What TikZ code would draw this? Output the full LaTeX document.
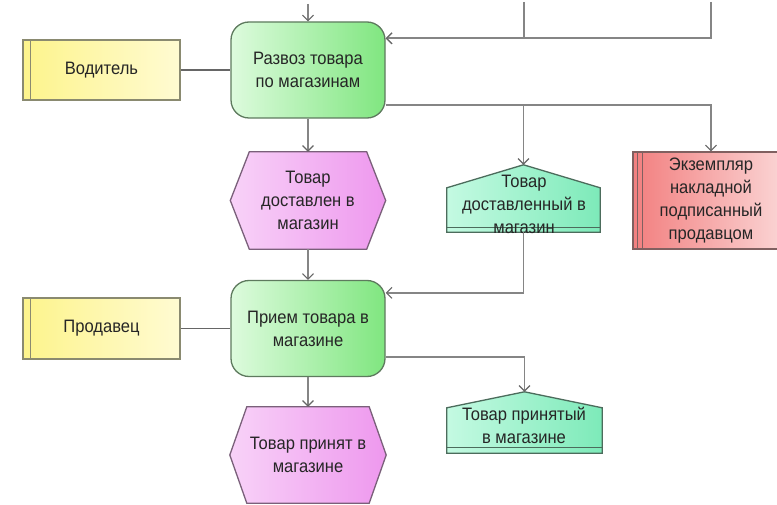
\documentclass[tikz,border=0pt]{standalone}
\usepackage{fontspec}
\setmainfont[FakeStretch=0.92]{Liberation Sans}
\usetikzlibrary{arrows.meta,calc}
\pgfdeclarelayer{background}
\pgfsetlayers{background,main}
\definecolor{linegray}{HTML}{858585}
\definecolor{plaingray}{HTML}{666666}
\definecolor{tipgray}{HTML}{666666}
\definecolor{txtc}{HTML}{262626}
\definecolor{grL}{HTML}{DDFBDD}
\definecolor{grR}{HTML}{80E680}
\definecolor{grB}{HTML}{5E7A5E}
\definecolor{yeL}{HTML}{FDF48C}
\definecolor{yeR}{HTML}{FFFBD2}
\definecolor{yeB}{HTML}{8A8A70}
\definecolor{piL}{HTML}{F8D2F8}
\definecolor{piR}{HTML}{EE98EE}
\definecolor{piB}{HTML}{7A607A}
\definecolor{tqL}{HTML}{C4FAE2}
\definecolor{tqR}{HTML}{7DEAB9}
\definecolor{tqB}{HTML}{4C6C5C}
\definecolor{rdL}{HTML}{F27F7F}
\definecolor{rdR}{HTML}{FBD8D8}
\definecolor{rdB}{HTML}{806060}
\tikzset{
  txt/.style={font=\fontsize{18}{23}\selectfont, text=txtc, align=center, inner sep=0pt},
  conn/.style={draw=linegray, line width=1.8pt, -{Straight Barb[length=5.5pt,width=11pt,line width=1.1pt,color=tipgray]}},
  plain/.style={draw=plaingray, line width=1.8pt},
  funcbox/.style={txt, draw=grB, line width=1.3pt, rounded corners=18pt, left color=grL, right color=grR, minimum width=154pt, minimum height=96pt},
  rolebox/.style={txt, draw=yeB, line width=1.2pt, left color=yeL, right color=yeR, minimum width=157pt, minimum height=60pt},
  evshape/.style={draw=piB, line width=1.3pt, left color=piL, right color=piR},
  infshape/.style={draw=tqB, line width=1.3pt, left color=tqL, right color=tqR},
  docbox/.style={txt, draw=rdB, line width=1.2pt, left color=rdL, right color=rdR, minimum width=156pt, minimum height=97pt},
}
\begin{document}
\begin{tikzpicture}[x=1pt,y=-1pt]
\useasboundingbox (0,0) rectangle (777,505);
\clip (0,0) rectangle (777,505);

% function boxes
\node[funcbox] (razv) at (308,70) {Развоз товара\\по магазинам};
\node[funcbox] (priem) at (308,328.5) {Прием товара в\\магазине};

% role boxes
\node[rolebox] (vod) at (101.5,70) {Водитель};
\node[rolebox, minimum height=61pt] (prod) at (101.5,328.5) {Продавец};
\draw[yeB, line width=1.2pt] ([xshift=8pt]vod.north west) -- ([xshift=8pt]vod.south west);
\draw[yeB, line width=1.2pt] ([xshift=8pt]prod.north west) -- ([xshift=8pt]prod.south west);

% events (hexagons)
\node[txt, minimum width=155pt, minimum height=97pt] (h1) at (308,200.5) {Товар\\доставлен в\\магазин};
\node[txt, minimum width=156pt, minimum height=96pt] (h2) at (308,455) {Товар принят в\\магазине};

% information objects (pentagons)
\node[txt, minimum width=153pt, minimum height=67pt] (tdost) at (523.5,198.5) {};
\node[txt, minimum width=155pt, minimum height=61pt] (tprin) at (524.5,422.5) {};

% document
\node[docbox] (ekz) at (711,200.5) {Экземпляр\\накладной\\подписанный\\продавцом};
\draw[rdB, line width=1.1pt] ([xshift=5pt]ekz.north west) -- ([xshift=5pt]ekz.south west);
\draw[rdB, line width=1.1pt] ([xshift=10pt]ekz.north west) -- ([xshift=10pt]ekz.south west);

\begin{pgfonlayer}{background}
  \fill[white] (0,0) rectangle (777,505);
  \draw[evshape] (h1.west) -- ([xshift=19pt]h1.north west) -- ([xshift=-19pt]h1.north east)
     -- (h1.east) -- ([xshift=-19pt]h1.south east) -- ([xshift=19pt]h1.south west) -- cycle;
  \draw[evshape] (h2.west) -- ([xshift=17pt]h2.north west) -- ([xshift=-17pt]h2.north east)
     -- (h2.east) -- ([xshift=-17pt]h2.south east) -- ([xshift=17pt]h2.south west) -- cycle;
  \draw[infshape] (tdost.north) -- ([yshift=-23pt]tdost.north east) -- (tdost.south east)
     -- (tdost.south west) -- ([yshift=-23pt]tdost.north west) -- cycle;
  \draw[tqB, line width=1.1pt] ([yshift=5pt]tdost.south west) -- ([yshift=5pt]tdost.south east);
  \draw[infshape] (tprin.north) -- ([yshift=-16pt]tprin.north east) -- (tprin.south east)
     -- (tprin.south west) -- ([yshift=-16pt]tprin.north west) -- cycle;
  \draw[tqB, line width=1.1pt] ([yshift=6pt]tprin.south west) -- ([yshift=6pt]tprin.south east);
\end{pgfonlayer}

\node[txt] (tdostT) at (524,204) {Товар\\доставленный в\\магазин};
\node[txt] (tprinT) at (524,425) {Товар принятый\\в магазине};

% connection points
\coordinate (topin) at (308,4);
\coordinate (inA) at (524,2);
\coordinate (inB) at (711,2);
\coordinate (rin) at ([yshift=-17pt]razv.north east);
\coordinate (rout) at ([yshift=14pt]razv.south east);
\coordinate (pin) at ([yshift=-13pt]priem.north east);
\coordinate (pout) at ([yshift=20pt]priem.south east);

% connectors
\draw[conn] (topin) -- (razv.north);
\draw[conn] (inB) |- (rin);
\draw[conn] (inA) |- (rin);
\draw[plain] (vod.east) -- (razv.west);
\draw[conn] (rout) -| (tdost.north);
\draw[conn] (rout) -| (ekz.north);
\draw[conn] (razv.south) -- (h1.north);
\draw[conn] (h1.south) -- (priem.north);
\draw[conn] (tdost.south) |- (pin);
\draw[plain] (prod.east) -- (priem.west);
\draw[conn] (pout) -| (tprin.north);
\draw[conn] (priem.south) -- (h2.north);
\end{tikzpicture}
\end{document}
